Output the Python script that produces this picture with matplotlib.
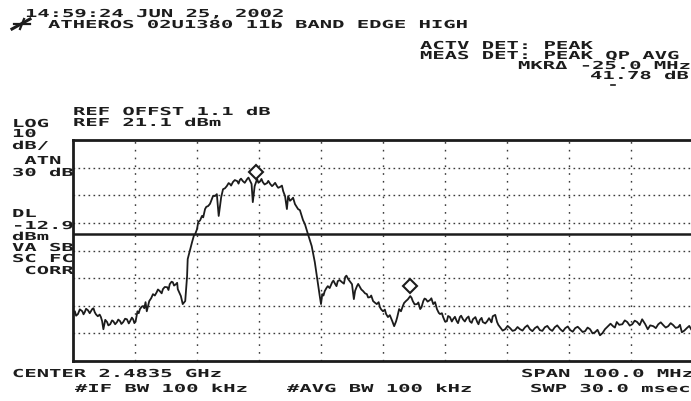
import matplotlib
matplotlib.use("Agg")
import matplotlib.pyplot as plt
from matplotlib.lines import Line2D
from matplotlib.patheffects import AbstractPathEffect
from matplotlib.transforms import Affine2D

# sweep settings (MHz / dBm)
CENTER_MHZ = 2483.5
SPAN_MHZ = 100.0
REF_DBM = 21.1
DB_PER_DIV = 10
DISPLAY_LINE = -12.9

# trace
freq_mhz = [
    2433.5, 2433.6, 2433.8, 2434.0, 2434.3, 2434.6, 2435.0, 2435.2, 2435.4, 2435.6,
    2435.9, 2436.2, 2436.6, 2436.8, 2437.0, 2437.2, 2437.5, 2437.8, 2438.0, 2438.2,
    2438.4, 2438.7, 2439.0, 2439.2, 2439.5, 2439.8, 2440.0, 2440.3, 2440.6, 2440.8,
    2441.1, 2441.3, 2441.6, 2441.9, 2442.2, 2442.5, 2442.7, 2443.0, 2443.2, 2443.4,
    2443.6, 2443.9, 2444.1, 2444.3, 2444.6, 2444.8, 2445.0, 2445.2, 2445.4, 2445.8,
    2446.1, 2446.4, 2446.7, 2447.0, 2447.2, 2447.5, 2447.8, 2448.0, 2448.3, 2448.7,
    2448.9, 2449.1, 2449.4, 2449.6, 2449.8, 2450.1, 2450.3, 2450.4, 2450.9, 2451.2,
    2451.6, 2451.9, 2452.0, 2452.7, 2453.0, 2453.2, 2453.5, 2453.7, 2454.0, 2454.3,
    2454.5, 2454.8, 2455.0, 2455.3, 2455.6, 2455.9, 2456.1, 2456.4, 2456.7, 2457.0,
    2457.4, 2457.7, 2458.0, 2458.3, 2458.6, 2458.8, 2459.0, 2459.3, 2459.6, 2460.0,
    2460.2, 2460.4, 2460.6, 2460.9, 2461.2, 2461.6, 2461.8, 2462.0, 2462.3, 2462.5,
    2462.8, 2463.2, 2463.4, 2463.7, 2463.9, 2464.1, 2464.4, 2464.8, 2465.0, 2465.3,
    2465.6, 2465.8, 2466.1, 2466.4, 2466.6, 2466.9, 2467.2, 2467.4, 2467.7, 2468.0,
    2468.2, 2468.5, 2468.8, 2469.0, 2469.3, 2469.6, 2469.8, 2470.1, 2470.4, 2470.6,
    2470.9, 2471.4, 2472.0, 2472.5, 2472.9, 2473.3, 2473.5, 2473.7, 2473.9, 2474.1,
    2474.4, 2474.6, 2474.9, 2475.3, 2475.5, 2475.8, 2476.0, 2476.2, 2476.5, 2476.9,
    2477.2, 2477.4, 2477.6, 2477.9, 2478.2, 2478.5, 2478.8, 2479.0, 2479.3, 2479.5,
    2479.8, 2480.0, 2480.3, 2480.6, 2480.9, 2481.1, 2481.4, 2481.6, 2481.9, 2482.2,
    2482.5, 2482.8, 2483.0, 2483.2, 2483.5, 2483.8, 2484.0, 2484.2, 2484.3, 2484.6,
    2485.0, 2485.3, 2485.6, 2485.8, 2486.0, 2486.1, 2486.4, 2486.7, 2486.9, 2487.2,
    2487.5, 2487.9, 2488.1, 2488.3, 2488.6, 2489.0, 2489.2, 2489.5, 2489.7, 2490.0,
    2490.2, 2490.4, 2490.7, 2491.1, 2491.3, 2491.6, 2491.9, 2492.2, 2492.5, 2492.7,
    2493.0, 2493.2, 2493.5, 2493.8, 2494.0, 2494.3, 2494.6, 2494.8, 2495.1, 2495.4,
    2495.6, 2495.9, 2496.1, 2496.4, 2496.7, 2497.0, 2497.3, 2497.5, 2497.8, 2498.0,
    2498.4, 2498.7, 2498.9, 2499.1, 2499.4, 2499.6, 2500.0, 2500.3, 2500.6, 2500.8,
    2501.0, 2501.2, 2501.6, 2501.9, 2502.1, 2502.4, 2502.8, 2503.2, 2503.6, 2504.0,
    2504.4, 2504.8, 2505.2, 2505.6, 2506.0, 2506.4, 2506.8, 2507.2, 2507.6, 2508.0,
    2508.4, 2508.8, 2509.2, 2509.6, 2510.0, 2510.4, 2510.8, 2511.2, 2511.6, 2512.1,
    2512.5, 2512.9, 2513.3, 2513.7, 2514.1, 2514.5, 2514.9, 2515.3, 2515.7, 2516.1,
    2516.5, 2516.9, 2517.3, 2517.7, 2518.1, 2518.5, 2518.9, 2519.3, 2519.8, 2520.2,
    2520.6, 2520.9, 2521.2, 2521.6, 2522.1, 2522.5, 2522.9, 2523.3, 2523.7, 2524.1,
    2524.5, 2524.9, 2525.3, 2525.8, 2526.2, 2526.6, 2527.1, 2527.5, 2527.9, 2528.3,
    2528.7, 2529.1, 2529.5, 2529.9, 2530.3, 2530.7, 2531.1, 2531.4, 2531.7, 2532.1,
    2532.5, 2532.9, 2533.2,
]
level_dbm = [
    -42.7, -41.5, -40.9, -42.5, -41.9, -40.2, -40.9, -42.0, -41.2, -40.0,
    -40.5, -41.6, -40.1, -39.8, -41.2, -42.0, -42.7, -42.1, -43.0, -44.5,
    -47.4, -44.0, -44.8, -46.0, -45.6, -44.2, -44.5, -45.6, -44.8, -43.9,
    -44.5, -45.5, -44.8, -43.6, -43.8, -45.3, -44.5, -43.2, -43.8, -45.2,
    -44.5, -40.9, -41.6, -40.1, -39.2, -39.0, -39.8, -37.6, -40.9, -37.2,
    -36.2, -34.7, -35.2, -34.0, -33.0, -33.6, -34.4, -32.9, -32.1, -32.2,
    -33.2, -31.1, -30.2, -30.4, -31.6, -31.1, -30.6, -32.9, -35.4, -38.3,
    -37.2, -28.2, -22.0, -15.9, -13.5, -13.0, -11.2, -8.6, -8.0, -6.4,
    -6.9, -3.9, -3.1, -2.8, -2.0, -0.3, 0.9, 0.8, 1.5, -6.4,
    0.4, 3.3, 3.6, 4.4, 5.5, 5.2, 4.6, 5.9, 6.6, 6.2,
    5.3, 6.6, 7.1, 6.2, 5.6, 7.0, 7.5, 6.6, 5.2, -1.4,
    4.4, 7.0, 5.6, 6.2, 7.0, 5.9, 5.0, 5.5, 6.3, 5.2,
    4.4, 4.8, 5.6, 4.4, 3.8, 4.1, 4.6, 2.6, 0.8, -3.9,
    0.8, -0.9, -0.3, 0.2, -2.1, -3.2, -3.9, -4.3, -6.4, -7.9,
    -9.3, -13.0, -17.3, -23.1, -29.3, -35.4, -38.3, -34.7, -35.2, -33.6,
    -32.4, -31.8, -32.5, -30.4, -29.8, -31.1, -31.8, -30.0, -29.6, -30.4,
    -30.9, -28.5, -28.0, -29.3, -30.2, -31.1, -36.5, -33.5, -31.8, -31.0,
    -32.2, -33.0, -33.6, -34.4, -34.7, -35.9, -35.8, -35.2, -37.2, -37.8,
    -38.3, -37.6, -39.4, -40.2, -40.9, -40.3, -41.9, -42.6, -43.0, -42.3,
    -44.5, -46.3, -44.6, -43.0, -41.0, -40.1, -40.9, -39.0, -37.9, -37.2,
    -36.6, -35.4, -36.0, -37.2, -38.4, -38.3, -37.7, -40.1, -39.5, -37.2,
    -36.3, -36.5, -37.4, -36.8, -36.2, -38.3, -37.6, -40.1, -41.5, -41.9,
    -41.6, -43.0, -44.6, -44.5, -42.6, -43.0, -44.6, -43.8, -42.9, -44.5,
    -45.2, -43.0, -42.5, -43.8, -44.6, -43.4, -42.8, -44.5, -45.1, -43.8,
    -43.0, -44.8, -45.6, -44.1, -43.3, -44.8, -45.3, -44.5, -43.4, -44.1,
    -44.9, -42.7, -42.2, -44.8, -45.8, -46.7, -47.9, -47.4, -46.2, -47.0,
    -48.0, -47.7, -46.6, -47.4, -47.9, -46.7, -46.0, -47.4, -48.1, -47.0,
    -46.4, -47.7, -48.0, -46.7, -46.2, -47.4, -48.0, -46.7, -46.0, -47.4,
    -48.2, -47.0, -46.4, -47.7, -48.3, -47.0, -46.5, -47.4, -48.4, -48.1,
    -46.8, -47.4, -48.9, -48.5, -47.6, -49.6, -48.8, -47.4, -46.3, -45.4,
    -46.3, -46.8, -44.8, -45.8, -45.6, -44.2, -44.8, -46.1, -45.6, -44.3,
    -44.8, -45.9, -43.8, -45.6, -47.4, -46.0, -46.3, -47.0, -45.6, -44.9,
    -45.9, -46.8, -46.3, -45.2, -45.9, -46.9, -46.7, -45.8, -48.5, -47.9,
    -47.0, -46.2, -47.4,
]

# delta marker (left) and reference marker (right)
marker_freq = [2463.0, 2487.9]
marker_level = [9.5, -31.8]

W, H = 691, 402
INK = "#1c1c1c"
GRID = "#3a3a3a"


class Widen(AbstractPathEffect):
    """stretch glyphs sideways to mimic the wide dot-matrix font"""
    def __init__(self, sx):
        super().__init__()
        self.sx = sx

    def draw_path(self, renderer, gc, tpath, affine, rgbFace=None):
        x0 = affine.get_matrix()[0, 2]
        affine = affine + Affine2D().translate(-x0, 0).scale(self.sx, 1).translate(x0, 0)
        renderer.draw_path(gc, tpath, affine, rgbFace)


fig = plt.figure(figsize=(W / 100, H / 100), dpi=100, facecolor="white")


def label(x, y, s):
    # x = left edge, y = baseline, both in pixels from top-left
    fig.text(x / W, 1 - y / H, s, ha="left", va="baseline",
             family="DejaVu Sans Mono", weight="bold", size=7.9, color=INK,
             path_effects=[Widen(1.87)])


def stroke(xs, ys, lw):
    # short decoration in pixel coords from top-left
    fig.add_artist(Line2D([x / W for x in xs], [1 - y / H for y in ys],
                          color=INK, lw=lw))


ax = fig.add_axes([73 / W, 40 / H, 620 / W, 221 / H])
x0 = CENTER_MHZ - SPAN_MHZ / 2
ax.set_xlim(x0, x0 + SPAN_MHZ)
ax.set_ylim(REF_DBM - 8 * DB_PER_DIV, REF_DBM)

for k in range(1, 10):
    ax.axvline(x0 + k * SPAN_MHZ / 10, color=GRID, lw=1.0,
               ls=(0, (1.2, 4.4)), zorder=1)
for k in range(1, 8):
    ax.axhline(REF_DBM - k * DB_PER_DIV, color=GRID, lw=1.0,
               ls=(0, (1.2, 2.4)), zorder=1)

ax.axhline(DISPLAY_LINE, color=INK, lw=1.8, zorder=2)
ax.plot(freq_mhz, level_dbm, color=INK, lw=1.3, zorder=3)
ax.plot(marker_freq, marker_level, ls="none", marker="D", ms=7,
        mfc="white", mec=INK, mew=1.5, zorder=4)

ax.set_xticks([])
ax.set_yticks([])
for sp in ax.spines.values():
    sp.set_linewidth(2.0)
    sp.set_color(INK)

# header
label(25, 18, "14:59:24 JUN 25, 2002")
label(48, 29, "ATHEROS 02U1380 11b BAND EDGE HIGH")
stroke([12, 30], [30, 20], 2.2)   # hp logo
stroke([14, 30], [25, 25], 1.6)
stroke([20, 24], [30, 20], 1.6)
label(420, 50, "ACTV DET: PEAK")
label(420, 60, "MEAS DET: PEAK QP AVG")
label(518, 70, "MKR\u0394 -25.0 MHz")
label(590, 80, "41.78 dB")
stroke([611, 615], [86, 86], 1.2)
label(73, 116, "REF OFFST 1.1 dB")
label(73, 127, "REF 21.1 dBm")

# left column
for y, s in [(128, "LOG"), (138, "10"), (150, "dB/"), (165, " ATN"),
             (177, "30 dB"), (218, "DL"), (230, "-12.9"), (241, "dBm"),
             (252, "VA SB"), (263, "SC FC"), (275, " CORR")]:
    label(12, y, s)

# footer
label(12, 378, "CENTER 2.4835 GHz")
label(75, 393, "#IF BW 100 kHz")
label(287, 393, "#AVG BW 100 kHz")
label(521, 378, "SPAN 100.0 MHz")
label(530, 393, "SWP 30.0 msec")

fig.savefig("out.png", dpi=100, facecolor="white")
